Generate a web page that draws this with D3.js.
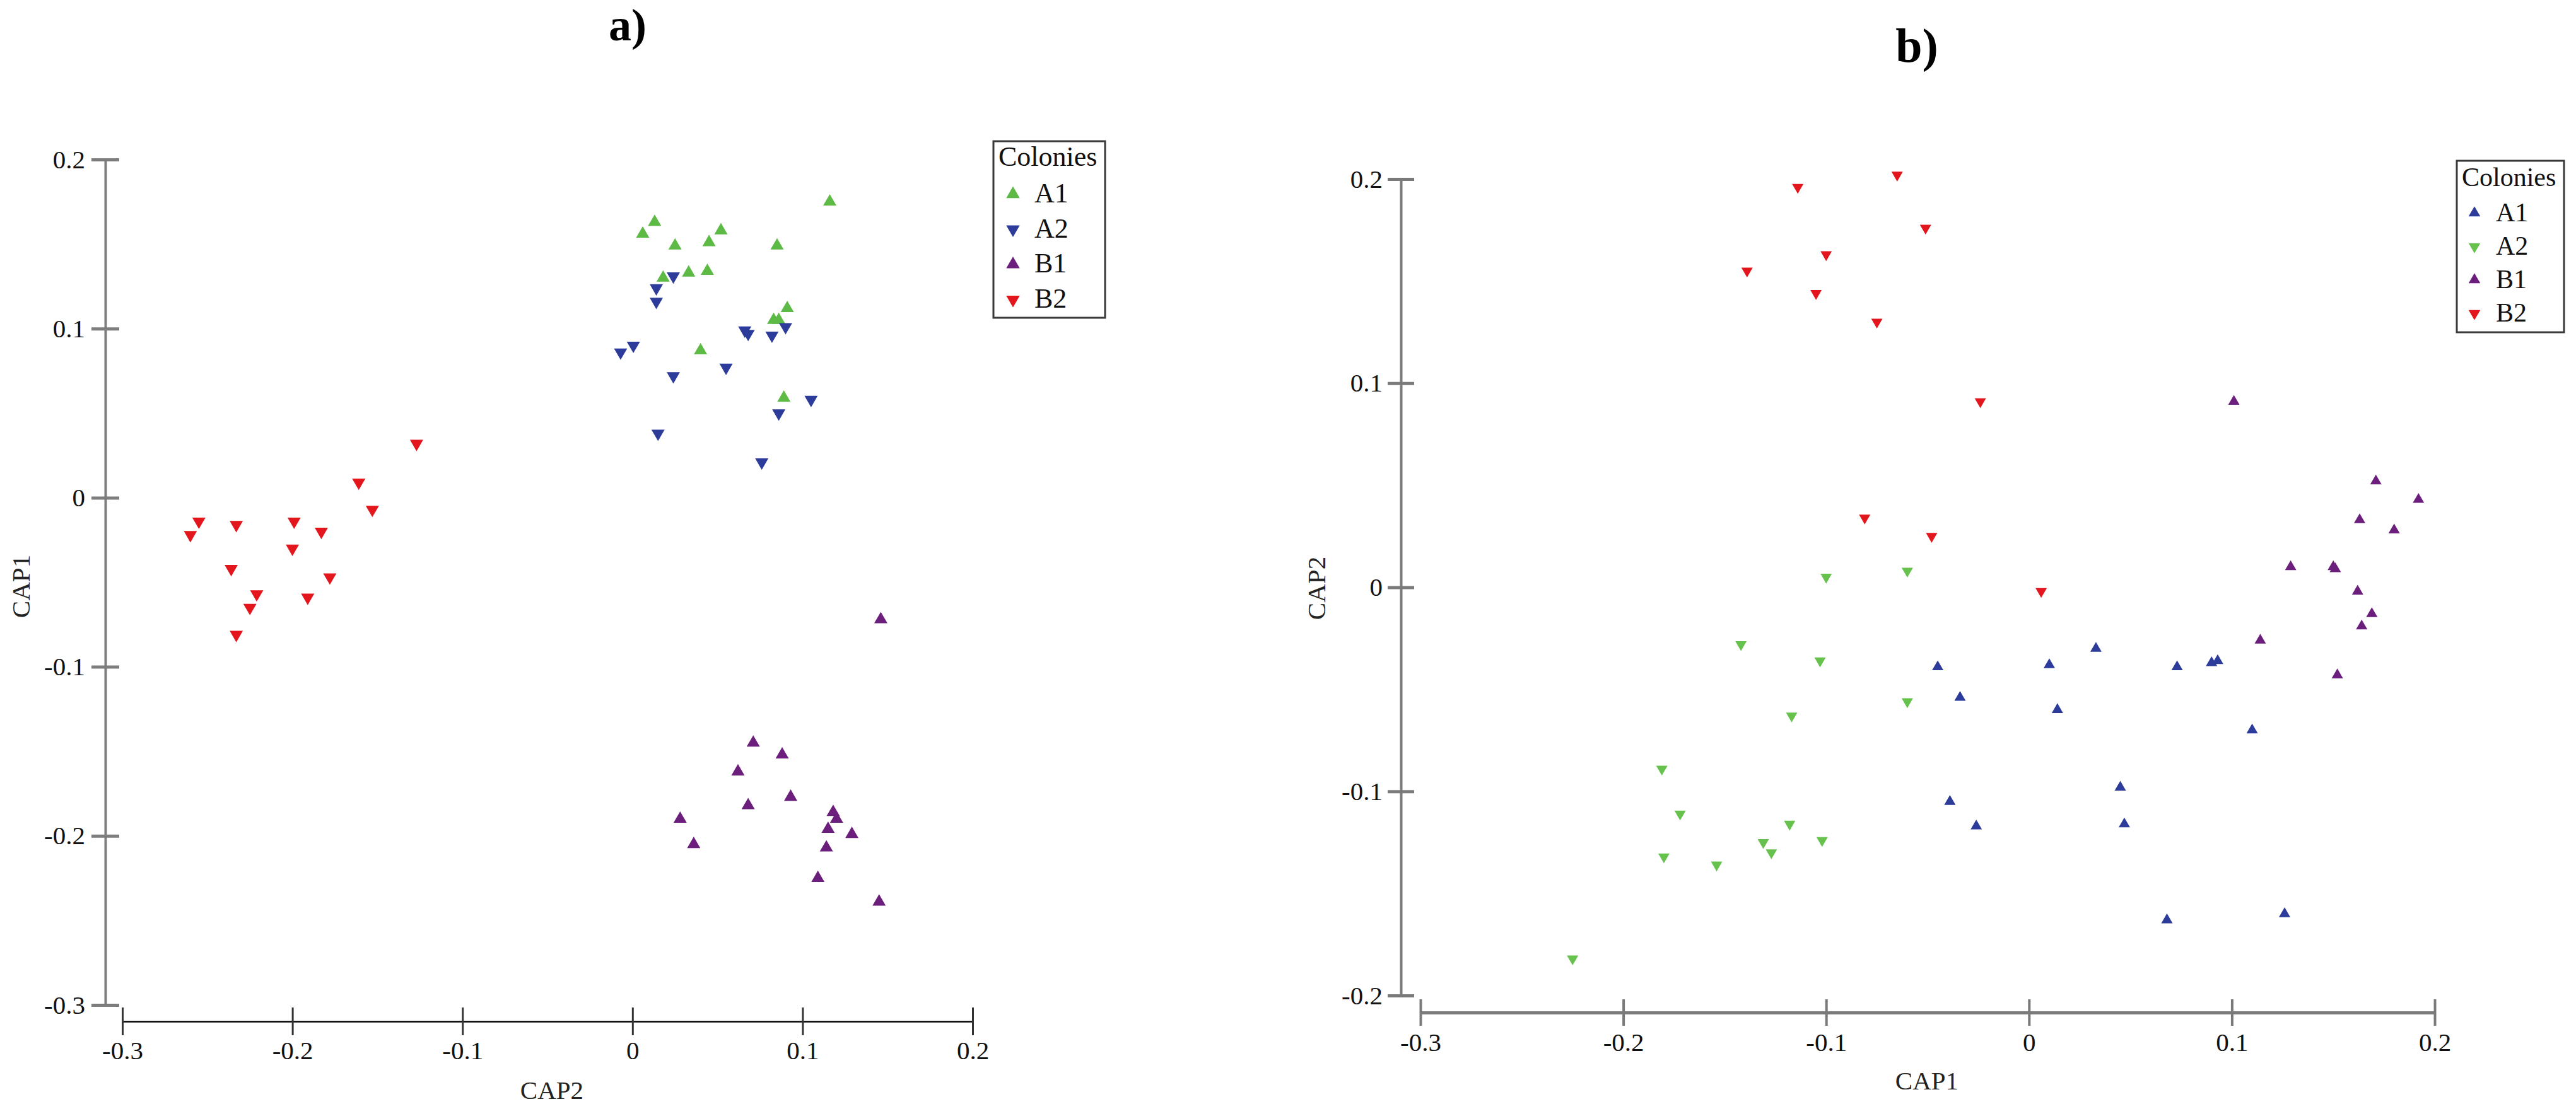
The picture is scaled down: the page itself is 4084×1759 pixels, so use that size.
<!DOCTYPE html>
<html>
<head>
<meta charset="utf-8">
<script src="https://cdn.jsdelivr.net/npm/d3@7"></script>
<style>
  html, body { margin: 0; padding: 0; background: #fff; }
  svg text { font-family: "Liberation Serif", "DejaVu Serif", serif; }
</style>
</head>
<body>
<div id="chart"></div>
<script>
// ---- data ([x, y] pairs) ----
// panel a: x = CAP2, y = CAP1
const aA1 = [[0.116,0.175],[0.013,0.163],[0.006,0.156],[0.052,0.158],[0.025,0.149],[0.045,0.151],[0.085,0.149],[0.033,0.133],[0.044,0.134],[0.018,0.130],[0.091,0.112],[0.083,0.105],[0.086,0.105],[0.040,0.087],[0.089,0.059]];
const aA2 = [[0.024,0.131],[0.014,0.124],[0.014,0.116],[0.066,0.099],[0.068,0.097],[0.090,0.101],[0.082,0.096],[0.0005,0.090],[-0.007,0.086],[0.055,0.077],[0.024,0.072],[0.105,0.058],[0.086,0.050],[0.015,0.038],[0.076,0.021]];
const aB1 = [[0.146,-0.072],[0.071,-0.145],[0.088,-0.152],[0.062,-0.162],[0.093,-0.177],[0.068,-0.182],[0.028,-0.190],[0.118,-0.186],[0.120,-0.190],[0.115,-0.196],[0.129,-0.199],[0.036,-0.205],[0.114,-0.207],[0.109,-0.225],[0.145,-0.239]];
const aB2 = [[-0.127,0.032],[-0.161,0.009],[-0.153,-0.007],[-0.255,-0.014],[-0.260,-0.022],[-0.233,-0.016],[-0.199,-0.014],[-0.183,-0.020],[-0.200,-0.030],[-0.236,-0.042],[-0.178,-0.047],[-0.221,-0.057],[-0.191,-0.059],[-0.225,-0.065],[-0.233,-0.081]];

// panel b: x = CAP1, y = CAP2
const bA1 = [[-0.045,-0.039],[0.010,-0.038],[0.033,-0.030],[-0.034,-0.054],[0.014,-0.060],[0.073,-0.039],[0.090,-0.037],[0.093,-0.036],[0.110,-0.070],[0.045,-0.098],[-0.039,-0.105],[0.047,-0.116],[-0.026,-0.117],[0.068,-0.163],[0.126,-0.160]];
const bA2 = [[-0.100,0.005],[-0.060,0.008],[-0.142,-0.028],[-0.103,-0.036],[-0.060,-0.056],[-0.117,-0.063],[-0.181,-0.089],[-0.172,-0.111],[-0.118,-0.116],[-0.131,-0.125],[-0.102,-0.124],[-0.180,-0.132],[-0.127,-0.130],[-0.154,-0.136],[-0.225,-0.182]];
const bB1 = [[0.101,0.091],[0.171,0.052],[0.192,0.043],[0.163,0.033],[0.180,0.028],[0.129,0.010],[0.150,0.010],[0.151,0.009],[0.162,-0.002],[0.169,-0.013],[0.164,-0.019],[0.114,-0.026],[0.152,-0.043]];
const bB2 = [[-0.065,0.202],[-0.114,0.196],[-0.051,0.176],[-0.139,0.155],[-0.100,0.163],[-0.105,0.144],[-0.075,0.130],[-0.024,0.091],[-0.081,0.034],[-0.048,0.025],[0.006,-0.002]];

const groups = ['A1', 'A2', 'B1', 'B2'];
const xTicks = [-0.3, -0.2, -0.1, 0, 0.1, 0.2];
const yTicksA = [-0.3, -0.2, -0.1, 0, 0.1, 0.2];
const yTicksB = [-0.2, -0.1, 0, 0.1, 0.2];

const GREEN = '#5cba45', BLUE = '#2d3c9a', PURPLE = '#6b1e7c', RED = '#e2161c';

const W = 4084, H = 1759;
const svg = d3.select('#chart').append('svg')
    .attr('width', W).attr('height', H)
    .attr('viewBox', `0 0 ${W} ${H}`);

const fmt = d => d === 0 ? '0' : String(d);
const tri = d3.symbol().type(d3.symbolTriangle);

function drawPanel(p) {
    const x = d3.scaleLinear().domain([-0.3, 0.2]).range(p.xRange);
    const y = d3.scaleLinear().domain(p.yDomain).range(p.yRange);
    const g = svg.append('g');

    // y axis (ticks cross the line)
    const ya = g.append('g')
        .attr('transform', `translate(${p.yAxisX},0)`)
        .call(d3.axisLeft(y).tickValues(p.yTicks).tickFormat(fmt)
            .tickSize(p.tick).tickSizeOuter(0).tickPadding(p.yPad));
    ya.select('.domain').attr('stroke', p.yColor).attr('stroke-width', p.yWidth);
    ya.selectAll('.tick line').attr('x1', p.tick)
        .attr('stroke', p.yColor).attr('stroke-width', p.yTickWidth);
    ya.selectAll('.tick text').attr('fill', '#111')
        .style('font-size', '41px').style('font-family', '"Liberation Serif", serif');

    // x axis
    const xa = g.append('g')
        .attr('transform', `translate(0,${p.xAxisY})`)
        .call(d3.axisBottom(x).tickValues(xTicks).tickFormat(fmt)
            .tickSize(p.tick).tickSizeOuter(0));
    xa.select('.domain').attr('stroke', p.xColor).attr('stroke-width', p.xWidth);
    xa.selectAll('.tick line').attr('y1', -p.tick)
        .attr('stroke', p.xTickColor).attr('stroke-width', p.xTickWidth);
    xa.selectAll('.tick text').attr('fill', '#111')
        .attr('y', p.xLabelOff).attr('dy', 0)
        .style('font-size', '41px').style('font-family', '"Liberation Serif", serif');

    // points
    p.series.forEach(s => {
        g.append('g').selectAll('path')
            .data(s.data)
            .enter().append('path')
            .attr('d', tri.size(p.size)())
            .attr('transform', d => `translate(${x(d[0])},${y(d[1])})${s.down ? ' rotate(180)' : ''}`)
            .attr('fill', s.color);
    });

    // panel title
    g.append('text')
        .attr('x', p.title.x).attr('y', p.title.y)
        .attr('text-anchor', 'middle')
        .style('font-size', p.title.size + 'px')
        .style('font-weight', 'bold')
        .attr('fill', '#000')
        .text(p.title.text);

    // axis titles
    g.append('text')
        .attr('x', p.xTitle.x).attr('y', p.xTitle.y)
        .attr('text-anchor', 'middle')
        .style('font-size', '41px').attr('fill', '#222')
        .text(p.xTitle.text);
    g.append('text')
        .attr('transform', `translate(${p.yTitle.x},${p.yTitle.y}) rotate(-90)`)
        .attr('text-anchor', 'middle')
        .style('font-size', '41px').attr('fill', '#222')
        .text(p.yTitle.text);

    // legend
    const L = p.legend;
    const lg = g.append('g');
    lg.append('rect')
        .attr('x', L.x).attr('y', L.y).attr('width', L.w).attr('height', L.h)
        .attr('fill', '#fff').attr('stroke', '#3a3a3a').attr('stroke-width', 3);
    lg.append('text')
        .attr('x', L.x + 8).attr('y', L.y + L.titleOff)
        .style('font-size', L.font + 'px').attr('fill', '#111')
        .text('Colonies');
    p.series.forEach((s, i) => {
        const by = L.y + L.firstOff + i * L.step;
        lg.append('path')
            .attr('d', tri.size(L.msize)())
            .attr('transform', `translate(${L.x + L.mx},${by - 13})${s.down ? ' rotate(180)' : ''}`)
            .attr('fill', s.color);
        lg.append('text')
            .attr('x', L.x + L.tx).attr('y', by)
            .style('font-size', L.font + 'px').attr('fill', '#111')
            .text(groups[i]);
    });
}

drawPanel({
    xRange: [194, 1542], yDomain: [-0.3, 0.2], yRange: [1594, 253], yTicks: yTicksA,
    yAxisX: 167, xAxisY: 1620, tick: 22, yPad: 10, xLabelOff: 60,
    yColor: '#7d7d7d', yWidth: 4, yTickWidth: 5,
    xColor: '#000', xWidth: 2.5, xTickColor: '#333', xTickWidth: 3,
    size: 190,
    series: [
        { data: aA1, color: GREEN, down: false },
        { data: aA2, color: BLUE, down: true },
        { data: aB1, color: PURPLE, down: false },
        { data: aB2, color: RED, down: true }
    ],
    title: { text: 'a)', x: 995, y: 64, size: 72 },
    xTitle: { text: 'CAP2', x: 875, y: 1743 },
    yTitle: { text: 'CAP1', x: 47, y: 930 },
    legend: { x: 1575, y: 224, w: 177, h: 280, font: 44, titleOff: 39,
              firstOff: 97, step: 55.7, mx: 31, tx: 65, msize: 200 }
});

drawPanel({
    xRange: [2252, 3860], yDomain: [-0.2, 0.2], yRange: [1579, 284], yTicks: yTicksB,
    yAxisX: 2221, xAxisY: 1606, tick: 21, yPad: 8, xLabelOff: 61,
    yColor: '#7a7a7a', yWidth: 4, yTickWidth: 5,
    xColor: '#7a7a7a', xWidth: 5, xTickColor: '#7a7a7a', xTickWidth: 4,
    size: 140,
    series: [
        { data: bA1, color: BLUE, down: false },
        { data: bA2, color: '#66c24c', down: true },
        { data: bB1, color: PURPLE, down: false },
        { data: bB2, color: RED, down: true }
    ],
    title: { text: 'b)', x: 3039, y: 98, size: 76 },
    xTitle: { text: 'CAP1', x: 3055, y: 1728 },
    yTitle: { text: 'CAP2', x: 2101, y: 933 },
    legend: { x: 3895, y: 255, w: 170, h: 272, font: 42, titleOff: 40,
              firstOff: 96, step: 53, mx: 28, tx: 62, msize: 150 }
});
</script>
</body>
</html>
